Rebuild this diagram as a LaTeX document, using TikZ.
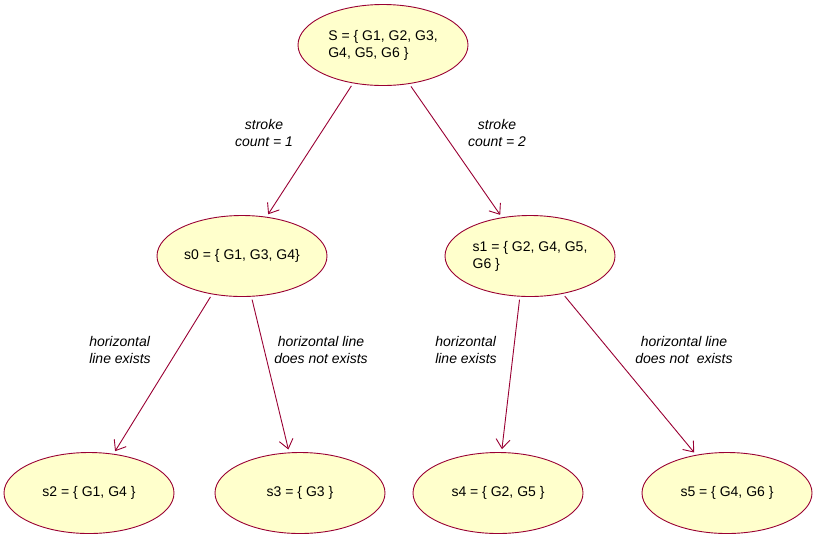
\documentclass[tikz,border=0pt]{standalone}
\usepackage{fontspec}
\setmainfont{Liberation Sans}
\usetikzlibrary{shapes.geometric,arrows.meta}
\definecolor{edgecol}{RGB}{153,0,51}
\definecolor{setfill}{RGB}{255,255,204}
\tikzset{
  setnode/.style={ellipse,draw=edgecol,fill=setfill,line width=0.9pt,
    minimum width=170pt,minimum height=81pt,inner sep=0pt,
    align=left,font=\fontsize{14}{17}\selectfont},
  branch/.style={draw=edgecol,line width=0.9pt,shorten <=3pt,shorten >=3pt,
    -{Straight Barb[length=9pt,width=14pt,line width=0.9pt]}},
  cond/.style={font=\fontsize{14}{17}\selectfont\itshape,inner sep=0pt}
}
\begin{document}
\begin{tikzpicture}[x=1pt,y=-1pt]
\useasboundingbox (0,0) rectangle (819,542);
% set nodes
\node[setnode] (S)  at (383,45)  {S = \{ G1, G2, G3,\\G4, G5, G6 \}};
\node[setnode] (s0) at (242,256) {s0 = \{ G1, G3, G4\}};
\node[setnode] (s1) at (530,256) {s1 = \{ G2, G4, G5,\\G6 \}};
\node[setnode] (s2) at (89,493)  {s2 = \{ G1, G4 \}};
\node[setnode] (s3) at (300,493) {s3 = \{ G3 \}};
\node[setnode] (s4) at (498,493) {s4 = \{ G2, G5 \}};
\node[setnode] (s5) at (727,493) {s5 = \{ G4, G6 \}};
% branches
\draw[branch] (S.232.5) -- (s0.58.8);
\draw[branch] (S.304)   -- (s1.126);
\draw[branch] (s0.232.7) -- (s2.58.7);
\draw[branch] (s0.283.4) -- (s3.105.8);
\draw[branch] (s1.256.6) -- (s4.85);
\draw[branch] (s1.311.4) -- (s5.129.6);
% branch conditions
\node[cond,align=center] (c1) at (264,133) {stroke\\count = 1};
\node[cond,align=center] (c2) at (497,133) {stroke\\count = 2};
\node[cond,align=left]   (c3) at (120,350) {horizontal\\line exists};
\node[cond,align=center] (c4) at (321,350) {horizontal line\\does not exists};
\node[cond,align=left]   (c5) at (466,350) {horizontal\\line exists};
\node[cond,align=center] (c6) at (684,350) {horizontal line\\does not\ \ exists};
\end{tikzpicture}
\end{document}
